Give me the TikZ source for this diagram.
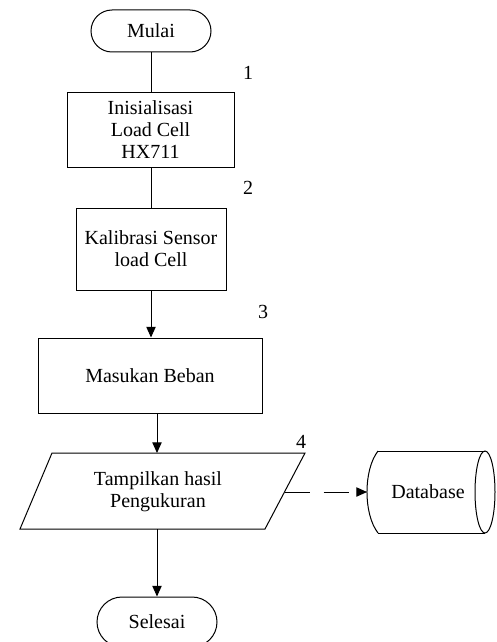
\documentclass[tikz,border=0pt]{standalone}
\usepackage{fontspec}
\setmainfont{Liberation Serif}
\usetikzlibrary{shapes.misc,arrows.meta,calc}
\tikzset{
  px/.style={x=0.75pt,y=-0.75pt},
  ln/.style={line width=0.75pt,draw=black},
  arr/.style={ln,-{Triangle[length=8pt,width=7pt]}},
  proc/.style={ln,rectangle,align=center,inner sep=0pt},
  term/.style={ln,rounded rectangle,rounded rectangle arc length=180,inner sep=0pt,minimum width=90pt},
  lbl/.style={inner sep=0pt},
  txt/.style={inner sep=0pt,align=center}
}
\begin{document}
\begin{tikzpicture}[px,font=\fontsize{15}{16.5}\selectfont]
\clip (0,0) rectangle (496,642);
\fill[white] (0,0) rectangle (496,642);
% nodes
\node[term,minimum height=31.5pt] (mulai) at (151,31) {Mulai};
\node[proc,minimum width=125.25pt,minimum height=56.25pt] (b1) at (150.5,129.5) {Inisialisasi\\Load Cell\\HX711};
\node[proc,minimum width=112.5pt,minimum height=61.5pt] (b2) at (151,249) {Kalibrasi Sensor\\load Cell};
\node[proc,minimum width=168pt,minimum height=56.25pt] (b3) at (150,375.5) {Masukan Beban};
% parallelogram
\coordinate (pTL) at (52,453);
\coordinate (pTR) at (305,453);
\coordinate (pBR) at (265,529);
\coordinate (pBL) at (20,529);
\draw[ln] (pTL) -- (pTR) -- (pBR) -- (pBL) -- cycle;
\node[txt] (io) at (158,492) {Tampilkan hasil\\Pengukuran};
\coordinate (ptop) at (157,453);
\coordinate (pbot) at (157,529);
\coordinate (pright) at (285,492);
% database
\draw[ln] (378,451) -- (485,451);
\draw[ln] (378,533) -- (485,533);
\draw[ln] (378,451) .. controls (363.3,470) and (363.3,514) .. (378,533);
\draw[ln] (485,492) ellipse [x radius=7.5pt, y radius=30.75pt];
\node[txt] (db) at (428,492) {Database};
\coordinate (dbw) at (367,492);
% end
\node[term,minimum height=37.5pt] (selesai) at (157,622) {Selesai};
% labels
\node[lbl] (n1) at (248,73) {1};
\node[lbl] (n2) at (248,188) {2};
\node[lbl] (n3) at (263,312) {3};
\node[lbl] (n4) at (301,442) {4};
% connectors
\draw[ln] (mulai.south) -- (mulai.south |- b1.north);
\draw[ln] (b1.south -| mulai.south) -- (mulai.south |- b2.north);
\draw[arr] (b2.south -| mulai.south) -- (mulai.south |- b3.north);
\draw[arr] (ptop |- b3.south) -- (ptop);
\draw[arr] (pbot) -- (selesai.north);
\draw[arr,dash pattern=on 19pt off 10pt] (pright) -- (dbw);
\end{tikzpicture}
\end{document}
